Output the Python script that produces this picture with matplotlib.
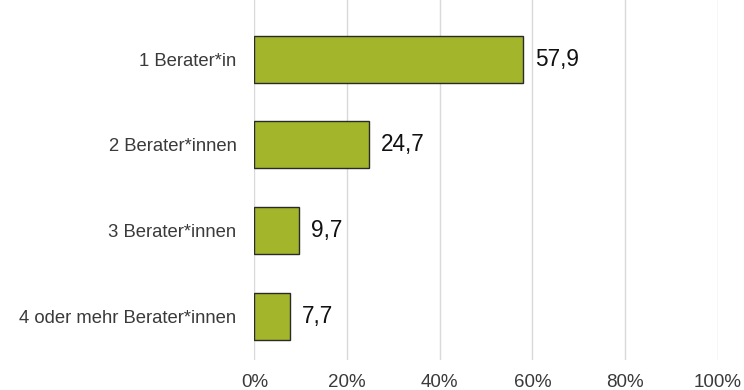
import matplotlib.pyplot as plt
import numpy as np

plt.rcParams['font.family'] = ['Liberation Sans', 'DejaVu Sans']

categories = ["1 Berater*in", "2 Berater*innen", "3 Berater*innen", "4 oder mehr Berater*innen"]
values = [57.9, 24.7, 9.7, 7.7]
value_labels = ["57,9", "24,7", "9,7", "7,7"]
ticks = [0, 20, 40, 60, 80, 100]
tick_labels = ["0%", "20%", "40%", "60%", "80%", "100%"]

fig = plt.figure(figsize=(7.44, 3.9), dpi=100)
ax = fig.add_axes([0.342, 0.077, 0.6225, 0.923])

y = np.arange(len(categories))
ax.barh(y, values, height=0.55, color="#A3B52A", edgecolor="#2a2a2a", linewidth=1, zorder=3)

# value labels right of the bars
for yi, v, lab in zip(y, values, value_labels):
    ax.text(v + 2.6, yi, lab, va="center", ha="left", fontsize=16.3, color="#111111")

ax.set_xlim(0, 100)
ax.set_ylim(3.51, -0.69)
ax.set_xticks(ticks)
ax.set_xticklabels(tick_labels, fontsize=13.5, color="#3a3a3a")
ax.set_yticks(y)
ax.set_yticklabels(categories, fontsize=13.3, color="#3a3a3a")
ax.tick_params(axis="both", length=0)
ax.tick_params(axis="x", pad=10)
ax.tick_params(axis="y", pad=13)

ax.grid(axis="x", color="#d9d9d9", linewidth=1, zorder=0)
for s in ax.spines.values():
    s.set_visible(False)

fig.savefig("out.png", dpi=100)
